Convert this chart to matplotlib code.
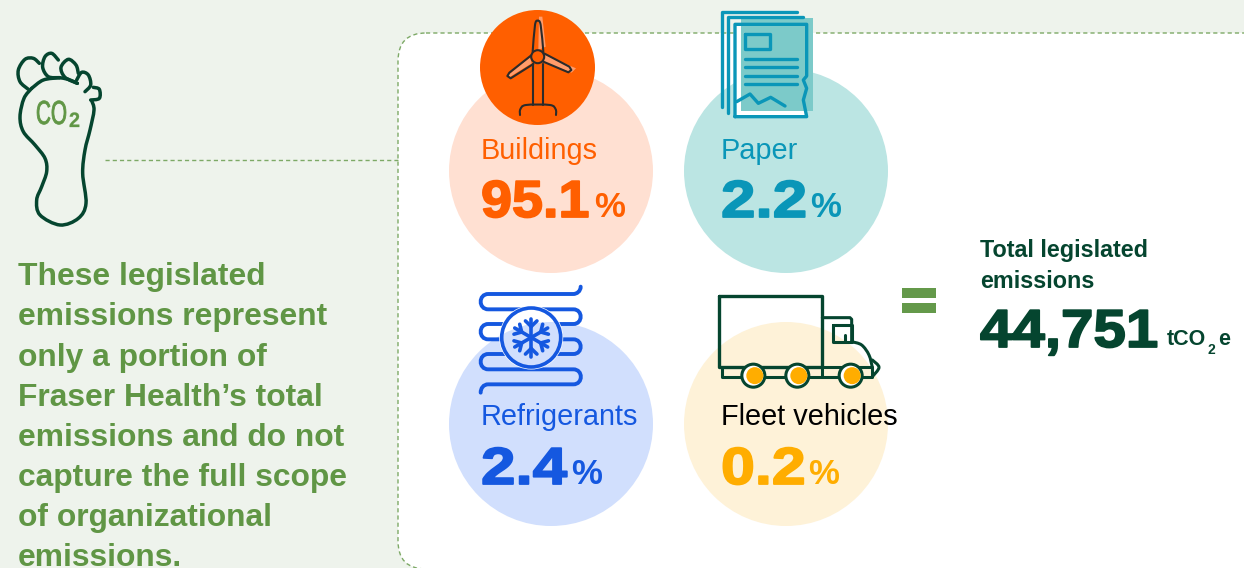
import numpy as np
import matplotlib
matplotlib.use("Agg")
import matplotlib.pyplot as plt
import matplotlib.patheffects as pe
from matplotlib.patches import Circle, PathPatch, Rectangle, FancyBboxPatch
from matplotlib.path import Path
from matplotlib.transforms import Affine2D

plt.rcParams['font.family'] = ['Liberation Sans', 'DejaVu Sans']

# chart values
categories = ["Buildings", "Paper", "Refrigerants", "Fleet vehicles"]
shares = ["95.1", "2.2", "2.4", "0.2"]
total_value = "44,751"
note_lines = ["These legislated", "emissions represent", "only a portion of",
              "Fraser Health\u2019s total", "emissions and do not",
              "capture the full scope", "of organizational", "emissions."]

# colours
BG = "#EEF3EC"
GREEN = "#609645"
DARK = "#05452F"
ORANGE = "#FF5F00"
TEAL = "#0A96B8"
BLUE = "#1558E0"
AMBER = "#FFAD00"
label_cols = [ORANGE, TEAL, BLUE, "#000000"]
value_cols = [ORANGE, TEAL, BLUE, AMBER]
disc_cols = ["#FFE0D2", "#BBE5E3", "#D1DFFD", "#FEF2D8"]
disc_xy = [(551, 171), (786, 171), (551, 424), (786, 424)]
label_xy = [(481, 159), (721, 159), (481, 425), (721, 425)]
value_y = [217, 217, 484, 484]
value_sx = [1.07, 1.19, 1.19, 1.17]
pct_x = [594, 810, 571, 808]

fig = plt.figure(figsize=(12.44, 5.68), dpi=100, facecolor=BG)
ax = fig.add_axes([0, 0, 1, 1])
ax.set_xlim(0, 1244)
ax.set_ylim(568, 0)
ax.axis("off")


class Stretch(pe.AbstractPathEffect):
    # widen or narrow text around its left edge, the reference type is not plain Arial
    def __init__(self, x0, sx, col, stroke=0.0):
        super().__init__()
        self.x0, self.sx, self.col, self.stroke = x0, sx, col, stroke

    def draw_path(self, renderer, gc, tpath, affine, rgbFace=None):
        aff = affine + Affine2D().translate(-self.x0, 0).scale(self.sx, 1).translate(self.x0, 0)
        gc0 = renderer.new_gc()
        gc0.copy_properties(gc)
        gc0.set_foreground(self.col)
        gc0.set_linewidth(self.stroke)
        renderer.draw_path(gc0, tpath, aff, rgbFace)
        gc0.restore()


def smooth(pts):
    # catmull-rom through the points
    p = [pts[0]] + list(pts) + [pts[-1]]
    verts = [pts[0]]
    codes = [Path.MOVETO]
    for i in range(1, len(p) - 2):
        c1 = (p[i][0] + (p[i + 1][0] - p[i - 1][0]) / 6, p[i][1] + (p[i + 1][1] - p[i - 1][1]) / 6)
        c2 = (p[i + 1][0] - (p[i + 2][0] - p[i][0]) / 6, p[i + 1][1] - (p[i + 2][1] - p[i][1]) / 6)
        verts += [c1, c2, p[i + 1]]
        codes += [Path.CURVE4] * 3
    return Path(verts, codes)


def zoomed(pts, ox, oy):
    return [(ox + x / 3, oy + y / 3) for x, y in pts]


def curve(pts, ox, oy, col, lw, z=5):
    ax.add_patch(PathPatch(smooth(zoomed(pts, ox, oy)), fill=False, ec=col, lw=lw,
                           capstyle="round", joinstyle="round", zorder=z))


def poly(pts, ox, oy, col, lw, z=5, fc="none", close=False):
    p = zoomed(pts, ox, oy)
    if close:
        p = p + [p[0]]
    ax.add_patch(PathPatch(Path(p), fc=fc, ec=col, lw=lw, capstyle="round",
                           joinstyle="round", zorder=z))


# white panel with dashed border
dash = (0, (3, 2.2))
ax.add_patch(FancyBboxPatch((398, 33), 900, 536, boxstyle="round,pad=0,rounding_size=28",
                            fc="white", ec="#7DA966", lw=1, ls=dash, zorder=1))
ax.plot([105, 398], [160, 160], color="#7DA966", lw=1, ls=dash, zorder=1)

# footprint
fx, fy = 0, 30
flw = 2.5
curve([(95, 175), (72, 205), (60, 260), (70, 305), (105, 345), (135, 385), (140, 425),
       (125, 470), (110, 510), (120, 555), (180, 585), (235, 565), (258, 520), (248, 430),
       (255, 360), (270, 300), (282, 240), (275, 212)], fx, fy, DARK, flw)
curve([(95, 175), (130, 150), (178, 143)], fx, fy, DARK, flw)
curve([(178, 143), (205, 148), (232, 160)], fx, fy, DARK, flw)
curve([(85, 178), (60, 155), (55, 120), (75, 88), (100, 85), (118, 100)], fx, fy, DARK, flw)
curve([(178, 143), (145, 140), (128, 112), (135, 80), (155, 70), (175, 90)], fx, fy, DARK, flw)
curve([(232, 160), (195, 142), (183, 112), (205, 88), (228, 105), (235, 130)], fx, fy, DARK, flw)
curve([(255, 185), (272, 165), (265, 135), (245, 127), (230, 150)], fx, fy, DARK, flw)
curve([(280, 172), (298, 178), (298, 205), (272, 210)], fx, fy, DARK, flw)
ax.text(36, 124, "CO", color=GREEN, fontsize=24,
        path_effects=[Stretch(36, 0.62, GREEN, 0.6)])
ax.text(69, 127, "2", color=GREEN, fontsize=15, fontweight="bold",
        path_effects=[Stretch(69, 0.95, GREEN, 0.2)])

# left note
note_y = [285, 325, 366, 406, 446, 486, 526, 566]
for line, y in zip(note_lines, note_y):
    ax.text(18, y, line, color=GREEN, fontsize=22.9, fontweight="bold", va="baseline")

# category discs and their labels
for i, name in enumerate(categories):
    ax.add_patch(Circle(disc_xy[i], 102, fc=disc_cols[i], ec="none", zorder=2))
    ax.text(label_xy[i][0], label_xy[i][1], name, color=label_cols[i], fontsize=20.8, zorder=8)
    ax.text(label_xy[i][0], value_y[i], shares[i], color=value_cols[i], fontsize=37.5,
            fontweight="bold", zorder=8,
            path_effects=[Stretch(label_xy[i][0], value_sx[i], value_cols[i], 1.3)])
    ax.text(pct_x[i], value_y[i], "%", color=value_cols[i], fontsize=25, fontweight="bold", zorder=8)

# wind turbine icon
ax.add_patch(Circle((537.5, 67.5), 57.5, fc=ORANGE, ec="none", zorder=3))
tx, ty = 470, 0
ink = "#2B2B2B"
peach = "#FF9C6B"
poly([(207, 50), (217, 50), (227, 140), (205, 150)], tx, ty, "none", 0, z=4, fc=peach, close=True)
poly([(225, 165), (318, 205), (305, 218), (220, 185)], tx, ty, "none", 0, z=4, fc=peach, close=True)
poly([(185, 190), (118, 232), (115, 225), (180, 172)], tx, ty, "none", 0, z=4, fc=peach, close=True)
curve([(188, 155), (195, 75), (203, 62), (212, 75), (220, 155)], tx, ty, ink, 1.5)
poly([(222, 160), (298, 200), (304, 210), (295, 217), (220, 185)], tx, ty, ink, 1.5)
poly([(185, 165), (118, 218), (112, 228), (122, 235), (190, 192)], tx, ty, ink, 1.5)
ax.add_patch(Circle((537.7, 56.7), 6.5, fc=ORANGE, ec=ink, lw=1.5, zorder=6))
poly([(190, 192), (190, 315)], tx, ty, ink, 1.5)
poly([(218, 192), (218, 315)], tx, ty, ink, 1.5)
curve([(150, 345), (151, 328), (168, 315), (240, 315), (257, 328), (258, 345)], tx, ty, ink, 1.5)

# paper icon
poly([(795, 73), (1010, 73), (1010, 350), (795, 350)], tx, ty, "none", 0, z=3, fc="white", close=True)
ax.add_patch(Rectangle((741, 17.7), 71.7, 93, fc="#7CCAC9", ec="none", zorder=4))
plw = 2.4
poly([(757, 322), (757, 35), (982, 35)], tx, ty, TEAL, plw)
poly([(775, 340), (775, 52), (1000, 52)], tx, ty, TEAL, plw)
poly([(795, 350), (795, 73), (1010, 73), (1010, 228), (1000, 240), (1010, 265), (1000, 300),
      (1010, 350)], tx, ty, TEAL, plw, close=True)
poly([(825, 103), (900, 103), (900, 147), (825, 147)], tx, ty, TEAL, plw, close=True)
for yy in [177, 202, 227, 252]:
    poly([(825, yy), (980, yy)], tx, ty, TEAL, plw)
poly([(800, 305), (840, 282), (865, 310), (902, 292), (945, 318)], tx, ty, TEAL, plw)

# refrigerant coil icon
rx, ry = 470, 280
rows = [42, 88, 132, 178, 222, 268, 313]
verts = [(332, 20), (332, 34), (320, 42), (310, 42)]
codes = [Path.MOVETO, Path.CURVE4, Path.CURVE4, Path.CURVE4]
for k in range(len(rows) - 1):
    y1, y2 = rows[k], rows[k + 1]
    x0 = 55 if k % 2 == 0 else 310
    sign = -1 if k % 2 == 0 else 1
    d = sign * (y2 - y1) * 2 / 3
    verts += [(x0, y1), (x0 + d, y1), (x0 + d, y2), (x0, y2)]
    codes += [Path.LINETO, Path.CURVE4, Path.CURVE4, Path.CURVE4]
verts += [(55, 313), (40, 313), (32, 325), (32, 338)]
codes += [Path.LINETO, Path.CURVE4, Path.CURVE4, Path.CURVE4]
ax.add_patch(PathPatch(Path(zoomed(verts, rx, ry), codes), fill=False, ec=BLUE, lw=2.8,
                       capstyle="round", zorder=5))
ring_xy = (531.2, 337.5)
ax.add_patch(Circle(ring_xy, 32, fc="white", ec="none", zorder=6))
inner_disc = Circle(disc_xy[2], 102, fc=disc_cols[2], ec="none", zorder=6.5)
ax.add_patch(inner_disc)
inner_disc.set_clip_path(Circle(ring_xy, 30, transform=ax.transData))
ax.add_patch(Circle(ring_xy, 29.5, fc="none", ec=BLUE, lw=2.6, zorder=7))
for ang in np.radians([90, 30, -30, -90, 150, 210]):
    tip = np.array([np.cos(ang), -np.sin(ang)])
    c = np.array(ring_xy)
    ax.plot(*zip(c, c + 19 * tip), color=BLUE, lw=2.6, solid_capstyle="round", zorder=8)
    for turn in [0.8, -0.8]:
        b = np.array([np.cos(ang + turn), -np.sin(ang + turn)])
        ax.plot(*zip(c + 11 * tip, c + 11 * tip + 8 * b), color=BLUE, lw=2.6,
                solid_capstyle="round", zorder=8)

# truck icon
poly([(748, 48), (1057, 48), (1057, 262), (748, 262)], rx, ry, DARK, 2.4, close=True)
poly([(1057, 113), (1140, 113), (1145, 118), (1145, 185)], rx, ry, DARK, 2.2)
poly([(1088, 135), (1145, 135), (1145, 185), (1088, 185)], rx, ry, DARK, 2.2, close=True)
poly([(1125, 165), (1125, 185)], rx, ry, DARK, 2.2)
curve([(1145, 185), (1175, 195), (1197, 225), (1207, 262)], rx, ry, DARK, 2.2)
curve([(1207, 240), (1227, 262), (1207, 290)], rx, ry, DARK, 2.2)
poly([(757, 262), (757, 292), (1207, 292), (1207, 262), (1057, 262)], rx, ry, DARK, 2.2)
poly([(1057, 262), (1057, 292)], rx, ry, DARK, 2.2)
for wx in [850, 982, 1142]:
    cx, cy = rx + wx / 3, ry + 287 / 3
    ax.add_patch(Circle((cx, cy), 11.5, fc="white", ec=DARK, lw=2.2, zorder=6))
    ax.add_patch(Circle((cx + 1.5, cy), 8.5, fc=AMBER, ec="none", zorder=7))

# equals sign
ax.add_patch(Rectangle((901.7, 287.7), 34, 10, fc="#64994A", ec="none", zorder=3))
ax.add_patch(Rectangle((901.7, 302.7), 34, 10, fc="#64994A", ec="none", zorder=3))

# total
ax.text(980, 257, "Total legislated", color=DARK, fontsize=16.8, fontweight="bold")
ax.text(980, 288, "emissions", color=DARK, fontsize=16.8, fontweight="bold")
ax.text(980, 347, total_value, color=DARK, fontsize=38.5, fontweight="bold",
        path_effects=[Stretch(980, 1.09, DARK, 1.3)])
ax.text(1167, 345, "tCO", color=DARK, fontsize=15.5, fontweight="bold")
ax.text(1208, 354, "2", color=DARK, fontsize=10, fontweight="bold")
ax.text(1218, 345, "e", color=DARK, fontsize=15.5, fontweight="bold")

fig.savefig("out.png", dpi=100, facecolor=BG)
